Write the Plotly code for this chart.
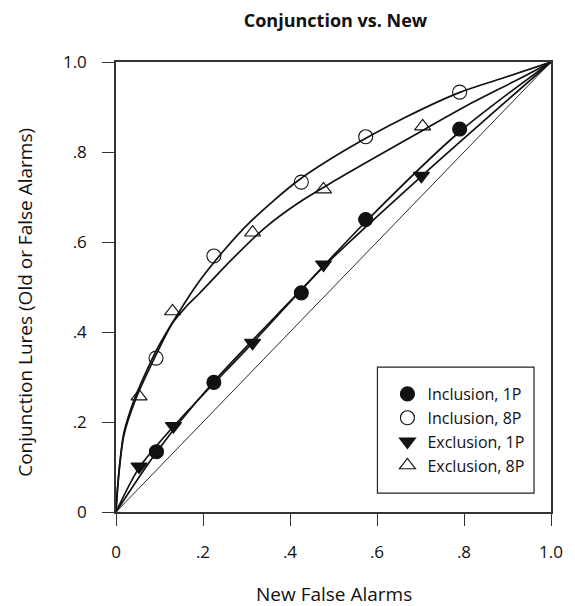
import plotly.graph_objects as go

# ---- data ----
tick_vals = [0, 0.2, 0.4, 0.6, 0.8, 1.0]
tick_text = ["0", ".2", ".4", ".6", ".8", "1.0"]

series_names = ["Inclusion, 1P", "Inclusion, 8P", "Exclusion, 1P", "Exclusion, 8P"]

incl1_x = [0.093, 0.225, 0.426, 0.574, 0.790]
incl1_y = [0.134, 0.288, 0.487, 0.650, 0.851]
incl8_x = [0.092, 0.225, 0.426, 0.574, 0.790]
incl8_y = [0.342, 0.569, 0.733, 0.834, 0.933]
excl1_x = [0.053, 0.132, 0.314, 0.477, 0.702]
excl1_y = [0.101, 0.191, 0.376, 0.550, 0.747]
excl8_x = [0.053, 0.130, 0.314, 0.477, 0.705]
excl8_y = [0.257, 0.446, 0.621, 0.717, 0.857]

# fitted curves
fit_incl1_x = [0, 0.093, 0.225, 0.426, 0.574, 0.790, 1.0]
fit_incl1_y = [0, 0.133, 0.290, 0.494, 0.645, 0.845, 1.0]
fit_excl1_x = [0, 0.053, 0.132, 0.314, 0.477, 0.702, 1.0]
fit_excl1_y = [0, 0.098, 0.190, 0.376, 0.545, 0.746, 1.0]
fit_incl8_x = [0, 0.003, 0.008, 0.018, 0.042, 0.081, 0.096, 0.142, 0.191,
               0.248, 0.308, 0.418, 0.532, 0.661, 0.789, 0.888, 1.0]
fit_incl8_y = [0, 0.045, 0.100, 0.175, 0.250, 0.336, 0.365, 0.440, 0.512,
               0.581, 0.644, 0.736, 0.807, 0.875, 0.932, 0.964, 1.0]
fit_excl8_x = [0, 0.003, 0.008, 0.018, 0.045, 0.085, 0.130, 0.160, 0.191,
               0.267, 0.343, 0.418, 0.494, 0.585, 0.705, 0.812, 0.926, 1.0]
fit_excl8_y = [0, 0.045, 0.100, 0.170, 0.250, 0.335, 0.420, 0.455, 0.485,
               0.562, 0.632, 0.686, 0.731, 0.782, 0.848, 0.906, 0.962, 1.0]
chance_x = [0, 1]
chance_y = [0, 1]

FONT = "Open Sans"
INK = "#111111"

fig = go.Figure()

# chance diagonal
fig.add_trace(go.Scatter(x=chance_x, y=chance_y, mode="lines",
                         line=dict(color=INK, width=0.9), showlegend=False,
                         hoverinfo="skip"))
# fitted curves
for fx, fy in [(fit_incl1_x, fit_incl1_y), (fit_excl1_x, fit_excl1_y),
               (fit_incl8_x, fit_incl8_y), (fit_excl8_x, fit_excl8_y)]:
    fig.add_trace(go.Scatter(x=fx, y=fy, mode="lines",
                             line=dict(color=INK, width=1.7, shape="spline", smoothing=0.8),
                             showlegend=False, hoverinfo="skip", cliponaxis=False))

# data points
specs = [
    (incl1_x, incl1_y, "circle", 14),
    (incl8_x, incl8_y, "circle-open", 14),
    (excl1_x, excl1_y, "triangle-down", 14),
    (excl8_x, excl8_y, "triangle-up-open", 14),
]
for name, (xs, ys, sym, sz) in zip(series_names, specs):
    fig.add_trace(go.Scatter(
        x=xs, y=ys, mode="markers", name=name, legendgroup=name,
        marker=dict(symbol=sym, size=sz, color=INK,
                    line=dict(color=INK, width=1.1)),
        cliponaxis=False))

axis_common = dict(range=[0, 1], tickvals=tick_vals, ticktext=tick_text,
                   showline=True, linecolor="#333333", linewidth=1.5, mirror=True,
                   ticks="outside", ticklen=12, tickwidth=1.4, tickcolor="#333333",
                   showgrid=False, zeroline=False,
                   tickfont=dict(family=FONT, size=17, color=INK))

fig.update_xaxes(**axis_common, ticklabelstandoff=12)
fig.update_yaxes(**axis_common, ticklabelstandoff=12)

fig.update_layout(
    width=575, height=606,
    margin=dict(l=116, r=20, t=62, b=94),
    plot_bgcolor="white", paper_bgcolor="white",
    font=dict(family=FONT, color=INK),
    title=dict(text="<b>Conjunction vs. New</b>", x=(116 + 555) / 2 / 575,
               xanchor="center", y=1 - 21 / 606, yanchor="middle",
               font=dict(family=FONT, size=18, color=INK)),
    legend=dict(x=0.624, y=0.30, xanchor="left", yanchor="top",
                bgcolor="rgba(0,0,0,0)", borderwidth=0,
                font=dict(family=FONT, size=16, color=INK),
                tracegroupgap=0),
    shapes=[dict(type="rect", xref="paper", yref="paper",
                 x0=0.601, x1=0.961, y0=0.042, y1=0.322,
                 line=dict(color="#222222", width=1.2), fillcolor="rgba(0,0,0,0)")],
    annotations=[
        dict(text="New False Alarms", xref="paper", yref="paper",
             x=0.5, y=(512 - 594) / 450, xanchor="center", yanchor="middle",
             showarrow=False, font=dict(family=FONT, size=19, color=INK)),
        dict(text="Conjunction Lures (Old or False Alarms)", xref="paper", yref="paper",
             x=(24 - 116) / 439, y=(512 - 302) / 450, xanchor="center", yanchor="middle",
             textangle=-90,
             showarrow=False, font=dict(family=FONT, size=19, color=INK)),
    ],
)

fig.write_html("out.html")
